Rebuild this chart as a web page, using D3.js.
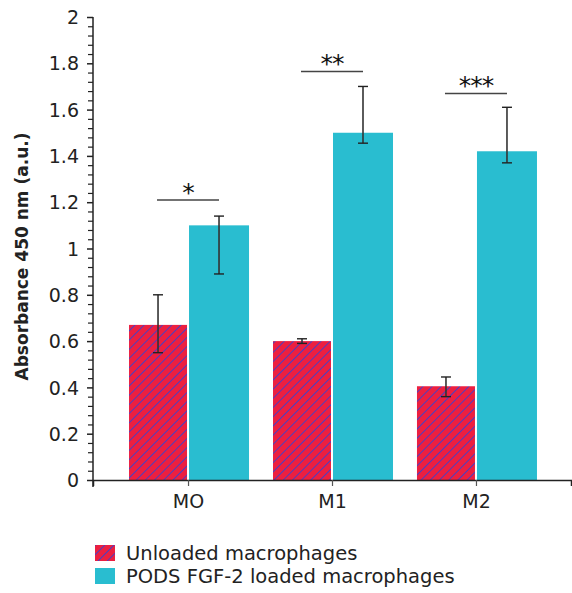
<!DOCTYPE html>
<html>
<head>
<meta charset="utf-8">
<script src="https://cdn.jsdelivr.net/npm/d3@7"></script>
<style>
  body { margin: 0; background: #fff; }
  svg text { font-family: "DejaVu Sans", Verdana, sans-serif; fill: #222; }
</style>
</head>
<body>
<div id="chart"></div>
<script>
// ---- data ----
const groups = ['MO', 'M1', 'M2'];
const seriesNames = ['Unloaded macrophages', 'PODS FGF-2 loaded macrophages'];
const unloaded = [0.67, 0.60, 0.405];
const unloadedHi = [0.80, 0.61, 0.445];
const unloadedLo = [0.55, 0.59, 0.36];
const loaded = [1.10, 1.50, 1.42];
const loadedHi = [1.14, 1.70, 1.61];
const loadedLo = [0.89, 1.455, 1.37];
const stars = ['*', '**', '***'];
const starLevel = [1.21, 1.765, 1.67];
const yTicks = [0, 0.2, 0.4, 0.6, 0.8, 1, 1.2, 1.4, 1.6, 1.8, 2];

const width = 572, height = 593;
const margin = { top: 17, right: 1, bottom: 113, left: 93 };
const w = width - margin.left - margin.right;
const h = height - margin.top - margin.bottom;

const svg = d3.select('#chart').append('svg')
    .attr('width', width)
    .attr('height', height);

// hatch pattern for unloaded bars
const defs = svg.append('defs');
const pat = defs.append('pattern')
    .attr('id', 'hatch')
    .attr('patternUnits', 'userSpaceOnUse')
    .attr('width', 6.5).attr('height', 6.5)
    .attr('patternTransform', 'rotate(45)');
pat.append('rect').attr('width', 6.5).attr('height', 6.5).attr('fill', '#ec1f40');
pat.append('line')
    .attr('x1', 0.5).attr('y1', 0).attr('x2', 0.5).attr('y2', 6.5)
    .attr('stroke', '#3b42cc').attr('stroke-width', 0.9);

const g = svg.append('g')
    .attr('transform', `translate(${margin.left},${margin.top})`);

const x = d3.scalePoint().domain(groups).range([0, w]).padding(0.66);
const y = d3.scaleLinear().domain([0, 2]).range([h, 0]);
const barW = 58, gap = 1;

// bars
const data = groups.map((k, i) => ({
    k, u: unloaded[i], uHi: unloadedHi[i], uLo: unloadedLo[i],
    l: loaded[i], lHi: loadedHi[i], lLo: loadedLo[i], s: stars[i], sl: starLevel[i]
}));

g.selectAll('.bar-u').data(data).join('rect')
    .attr('x', d => x(d.k) - barW - gap)
    .attr('width', barW)
    .attr('y', d => y(d.u))
    .attr('height', d => h - y(d.u))
    .attr('fill', 'url(#hatch)');

g.selectAll('.bar-l').data(data).join('rect')
    .attr('x', d => x(d.k) + gap)
    .attr('width', barW + 2)
    .attr('y', d => y(d.l))
    .attr('height', d => h - y(d.l))
    .attr('fill', '#29bdd0');

// error bars
function errBar(cx, hi, lo) {
    g.append('line')
        .attr('x1', cx).attr('x2', cx)
        .attr('y1', y(hi)).attr('y2', y(lo))
        .attr('stroke', '#333').attr('stroke-width', 1.6);
    [hi, lo].forEach(v => {
        g.append('line')
            .attr('x1', cx - 5).attr('x2', cx + 5)
            .attr('y1', y(v)).attr('y2', y(v))
            .attr('stroke', '#222').attr('stroke-width', 1.4);
    });
}
data.forEach(d => {
    errBar(x(d.k) - gap - barW / 2, d.uHi, d.uLo);
    errBar(x(d.k) + gap + barW / 2 + 1, d.lHi, d.lLo);
});

// significance lines
data.forEach(d => {
    g.append('line')
        .attr('x1', x(d.k) - 31).attr('x2', x(d.k) + 31)
        .attr('y1', y(d.sl)).attr('y2', y(d.sl))
        .attr('stroke', '#444').attr('stroke-width', 1.5);
    g.append('text')
        .attr('x', x(d.k))
        .attr('y', y(d.sl) + 1)
        .attr('text-anchor', 'middle')
        .style('font-size', '25px')
        .style('letter-spacing', '-1px')
        .style('fill', '#111')
        .text(d.s);
});

// axes
const yAxis = g.append('g')
    .call(d3.axisLeft(y).tickValues(yTicks).tickFormat(d3.format('')).tickSize(6).tickSizeOuter(0));
yAxis.selectAll('text').style('font-size', '19px').attr('x', -14).attr('dy', '0.35em');
yAxis.select('.domain').attr('stroke', '#222').attr('stroke-width', 1.5)
    .attr('d', `M0,0V${h + 7}`);
yAxis.selectAll('.tick line').attr('stroke', '#222').attr('stroke-width', 1.5);

const minor = d3.range(0, 2.0001, 0.04).filter(v => Math.abs(v * 5 - Math.round(v * 5)) > 1e-6);
g.append('g')
    .call(d3.axisLeft(y).tickValues(minor).tickFormat('').tickSize(5).tickSizeOuter(0))
    .call(a => a.select('.domain').remove())
    .selectAll('.tick line').attr('stroke', '#222').attr('stroke-width', 1.2);

const xAxis = g.append('g')
    .attr('transform', `translate(0,${h})`)
    .call(d3.axisBottom(x).tickSize(6).tickSizeOuter(6));
xAxis.select('.domain').attr('stroke', '#222').attr('stroke-width', 1.5);
xAxis.selectAll('.tick line').attr('stroke', '#555').attr('stroke-width', 1.2);
xAxis.selectAll('text').style('font-size', '19px').attr('y', 15);

// y label
g.append('text')
    .attr('transform', 'rotate(-90)')
    .attr('x', -h / 2 - 8)
    .attr('y', -margin.left + 28)
    .attr('text-anchor', 'middle')
    .style('font-size', '17px')
    .style('font-weight', 'bold')
    .text('Absorbance 450 nm (a.u.)');

// legend
const legend = svg.append('g').attr('transform', 'translate(95,545)');
seriesNames.forEach((name, i) => {
    const row = legend.append('g').attr('transform', `translate(0,${i * 23})`);
    row.append('rect')
        .attr('width', 20).attr('height', 16)
        .attr('fill', i === 0 ? 'url(#hatch)' : '#29bdd0');
    row.append('text')
        .attr('x', 31).attr('y', 8)
        .attr('dy', '0.35em')
        .style('font-size', '19.5px')
        .text(name);
});
</script>
</body>
</html>
